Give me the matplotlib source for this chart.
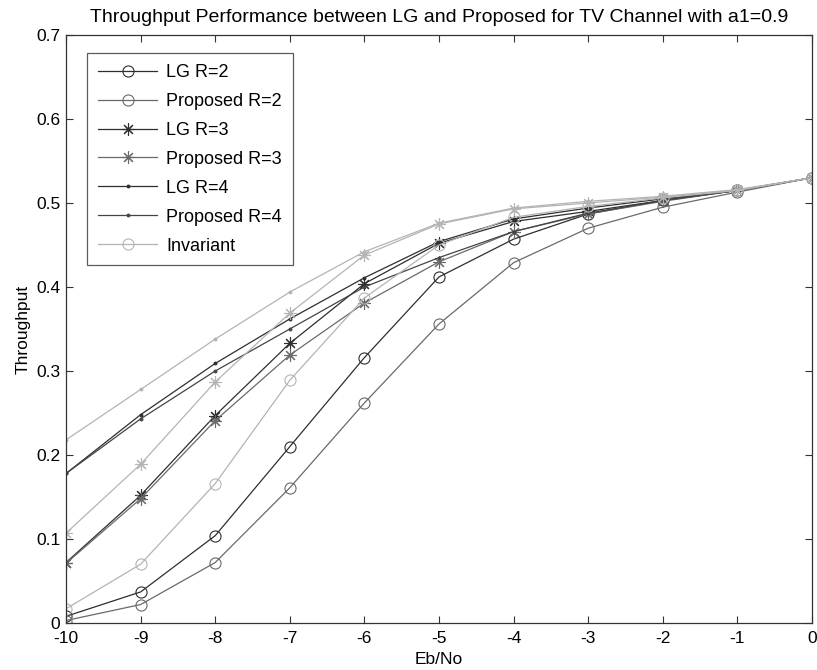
import matplotlib
matplotlib.use("Agg")
import matplotlib.pyplot as plt

plt.rcParams['font.family'] = ['Liberation Sans', 'DejaVu Sans']

ebno = [-10, -9, -8, -7, -6, -5, -4, -3, -2, -1, 0]

lg_r2 = [0.008, 0.037, 0.104, 0.210, 0.316, 0.412, 0.457, 0.487, 0.503, 0.515, 0.530]
prop_r2 = [0.003, 0.022, 0.072, 0.161, 0.262, 0.356, 0.429, 0.470, 0.495, 0.513, 0.530]
lg_r3 = [0.072, 0.152, 0.247, 0.333, 0.404, 0.452, 0.478, 0.490, 0.503, 0.515, 0.530]
prop_r3 = [0.071, 0.148, 0.241, 0.319, 0.381, 0.430, 0.466, 0.487, 0.502, 0.515, 0.530]
lg_r4 = [0.178, 0.248, 0.309, 0.362, 0.411, 0.454, 0.481, 0.494, 0.505, 0.515, 0.530]
prop_r4 = [0.178, 0.243, 0.300, 0.350, 0.400, 0.435, 0.466, 0.488, 0.503, 0.515, 0.530]
inv_r2 = [0.017, 0.070, 0.166, 0.289, 0.387, 0.450, 0.483, 0.496, 0.506, 0.515, 0.530]
inv_r3 = [0.107, 0.189, 0.287, 0.369, 0.438, 0.475, 0.493, 0.500, 0.507, 0.515, 0.530]
inv_r4 = [0.218, 0.278, 0.338, 0.394, 0.442, 0.476, 0.494, 0.502, 0.508, 0.516, 0.530]

labels = ["LG R=2", "Proposed R=2", "LG R=3", "Proposed R=3",
          "LG R=4", "Proposed R=4", "Invariant"]

fig = plt.figure(figsize=(8.17, 6.70), dpi=100)
ax = fig.add_axes([0.0808, 0.0701, 0.9131, 0.8777])

dark = '#2e2e2e'
mid = '#6a6a6a'
light = '#b4b4b4'
ast = (8, 2, 0)

series = [
    (lg_r2, 'o', dark, 8),
    (prop_r2, 'o', mid, 8),
    (lg_r3, ast, dark, 9),
    (prop_r3, ast, mid, 9),
    (lg_r4, '.', dark, 4),
    (prop_r4, '.', '#444444', 4),
    (inv_r2, 'o', light, 8),
    (inv_r3, ast, light, 9),
    (inv_r4, '.', light, 4),
]

handles = []
for ys, m, c, ms in series:
    h, = ax.plot(ebno, ys, marker=m, color=c, markersize=ms,
                 markerfacecolor='none' if m == 'o' else c,
                 markeredgecolor=c, markeredgewidth=0.8,
                 linewidth=0.9)
    handles.append(h)

ax.set_xlim(-10, 0)
ax.set_ylim(0, 0.7)
ax.set_xticks(ebno)
ax.set_xticklabels([str(v) for v in ebno])
ax.set_yticks([0, 0.1, 0.2, 0.3, 0.4, 0.5, 0.6, 0.7])
ax.set_yticklabels(['0', '0.1', '0.2', '0.3', '0.4', '0.5', '0.6', '0.7'])
ax.tick_params(direction='in', length=5, labelsize=12.5, top=True, right=True,
               width=0.8, color='#333333')
ax.tick_params(axis='x', pad=6)
ax.tick_params(axis='y', pad=4)
for s in ax.spines.values():
    s.set_color('#333333')
    s.set_linewidth(0.9)

ax.set_xlabel('Eb/No', fontsize=12.5, labelpad=4)
ax.set_ylabel('Throughput', fontsize=12.5, labelpad=4)
ax.set_title('Throughput Performance between LG and Proposed for TV Channel with a1=0.9',
             fontsize=14, pad=9)

leg = ax.legend(handles[:7], labels, loc='upper left',
                bbox_to_anchor=(0.028, 0.969), fontsize=13,
                frameon=True, fancybox=False, edgecolor='#333333',
                handlelength=3.3, handletextpad=0.5, labelspacing=0.66,
                borderpad=0.6, borderaxespad=0)
leg.get_frame().set_linewidth(0.9)

fig.savefig('out.png', dpi=100)
